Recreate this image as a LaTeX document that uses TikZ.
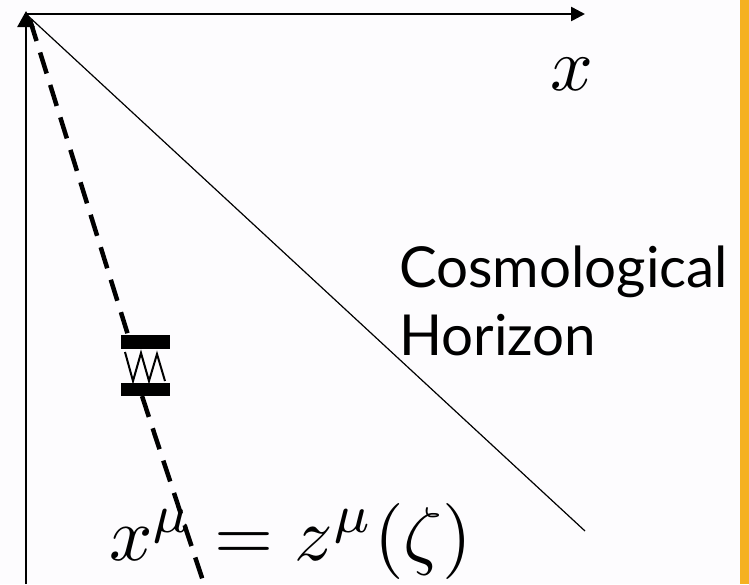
\documentclass[tikz,border=0pt]{standalone}
\usepackage{fontspec}
\newfontfamily\labelfont{Lato}
\usetikzlibrary{arrows.meta}
\definecolor{bg}{RGB}{253,252,254}
\definecolor{strip}{RGB}{245,177,32}
\begin{document}
\begin{tikzpicture}[x=1pt,y=-1pt,
  axis/.style={line width=2.6pt},
  horizon/.style={line width=1.2pt},
  worldline/.style={line width=4.5pt,dash pattern=on 22pt off 12pt},
  springbox/.style={fill=black,draw=none},
  label/.style={inner sep=0pt,anchor=base west}]
\fill[bg] (0,0) rectangle (749,584);
\useasboundingbox (0,0) rectangle (749,584);
\fill[strip] (740,0) rectangle (749,584);
\coordinate (O) at (26,14);
\coordinate (Xend) at (585,14);
\coordinate (Bot) at (26,584);
\coordinate (Top) at (26,11);
\coordinate (Hend) at (585,531);
\coordinate (W0) at (30,20);
\coordinate (W1) at (128,335);
\coordinate (W2) at (142,396);
\coordinate (W3) at (206,590);
\node[label] (xlab) at (550,90) {\scalebox{7.5}{$x$}};
\node[label] (cos) at (399,287) {\labelfont\fontsize{56.5}{68}\selectfont Cosmological};
\node[label] (hor) at (399,355) {\labelfont\fontsize{56.5}{68}\selectfont Horizon};
\node[label] (eq) at (109,560) {\scalebox{7.6}{$x^\mu = z^\mu(\zeta)$}};
\draw[horizon] (O) -- (Hend);
\draw[worldline] (W0) -- (W1);
\draw[worldline] (W2) -- (W3);
\draw[axis,-{Triangle[length=14pt,width=14pt]}] (O) -- (Xend);
\draw[axis,-{Triangle[length=16pt,width=17pt]}] (Bot) -- (Top);
\fill[springbox] (121,335) rectangle (170,349);
\fill[springbox] (121,383) rectangle (170,396);
\draw[line width=2pt] (125,352) -- (133,381) -- (141,353) -- (149,381) -- (157,354) -- (165,381);
\end{tikzpicture}
\end{document}
